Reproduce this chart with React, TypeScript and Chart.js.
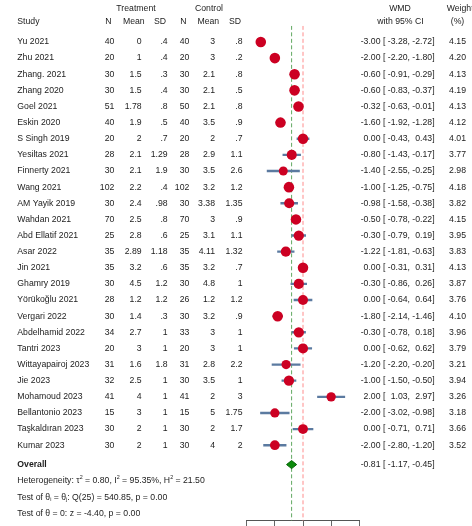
import React, { useEffect, useRef } from "react";
import { Chart, registerables } from "chart.js";

Chart.register(...registerables);

// ---- Study data ----
const studies = [
  "Yu 2021", "Zhu 2021", "Zhang. 2021", "Zhang 2020", "Goel 2021", "Eskin 2020",
  "S Singh 2019", "Yesiltas 2021", "Finnerty 2021", "Wang 2021", "AM Yayik 2019",
  "Wahdan 2021", "Abd Ellatif 2021", "Asar 2022", "Jin 2021", "Ghamry 2019",
  "Yörükoğlu 2021", "Vergari 2022", "Abdelhamid 2022", "Tantri 2023",
  "Wittayapairoj 2023", "Jie 2023", "Mohamoud 2023", "Bellantonio 2023",
  "Taşkaldıran 2023", "Kumar 2023",
];
const trtN = [40, 20, 30, 30, 51, 40, 20, 28, 30, 102, 30, 70, 25, 35, 35, 30, 28, 30, 34, 20, 31, 32, 41, 15, 30, 30];
const trtMean = [0, 1, 1.5, 1.5, 1.78, 1.9, 2, 2.1, 2.1, 2.2, 2.4, 2.5, 2.8, 2.89, 3.2, 4.5, 1.2, 1.4, 2.7, 3, 1.6, 2.5, 4, 3, 2, 2];
const trtSD = [0.4, 0.4, 0.3, 0.4, 0.8, 0.5, 0.7, 1.29, 1.9, 0.4, 0.98, 0.8, 0.6, 1.18, 0.6, 1.2, 1.2, 0.3, 1, 1, 1.8, 1, 1, 1, 1, 1];
const ctlN = [40, 20, 30, 30, 50, 40, 20, 28, 30, 102, 30, 70, 25, 35, 35, 30, 26, 30, 33, 20, 31, 30, 41, 15, 30, 30];
const ctlMean = [3, 3, 2.1, 2.1, 2.1, 3.5, 2, 2.9, 3.5, 3.2, 3.38, 3, 3.1, 4.11, 3.2, 4.8, 1.2, 3.2, 3, 3, 2.8, 3.5, 2, 5, 2, 4];
const ctlSD = [0.8, 0.2, 0.8, 0.5, 0.8, 0.9, 0.7, 1.1, 2.6, 1.2, 1.35, 0.9, 1.1, 1.32, 0.7, 1, 1.2, 0.9, 1, 1, 2.2, 1, 3, 1.75, 1.7, 2];
const wmd = [-3.0, -2.0, -0.6, -0.6, -0.32, -1.6, 0.0, -0.8, -1.4, -1.0, -0.98, -0.5, -0.3, -1.22, 0.0, -0.3, 0.0, -1.8, -0.3, 0.0, -1.2, -1.0, 2.0, -2.0, 0.0, -2.0];
const ciLow = [-3.28, -2.2, -0.91, -0.83, -0.63, -1.92, -0.43, -1.43, -2.55, -1.25, -1.58, -0.78, -0.79, -1.81, -0.31, -0.86, -0.64, -2.14, -0.78, -0.62, -2.2, -1.5, 1.03, -3.02, -0.71, -2.8];
const ciHigh = [-2.72, -1.8, -0.29, -0.37, -0.01, -1.28, 0.43, -0.17, -0.25, -0.75, -0.38, -0.22, 0.19, -0.63, 0.31, 0.26, 0.64, -1.46, 0.18, 0.62, -0.2, -0.5, 2.97, -0.98, 0.71, -1.2];
const weights = [4.15, 4.2, 4.13, 4.19, 4.13, 4.12, 4.01, 3.77, 2.98, 4.18, 3.82, 4.15, 3.95, 3.83, 4.13, 3.87, 3.76, 4.1, 3.96, 3.79, 3.21, 3.94, 3.26, 3.18, 3.66, 3.52];

// Pooled estimate
const overallEst = -0.81;
const overallLow = -1.17;
const overallHigh = -0.45;

const xTicks = [-4, -2, 0, 2, 4];

// ---- Layout of the rows (row units on the y scale) ----
const Y_MIN = -1;
const Y_MAX = 29.68;
const OVERALL_ROW = 26.2;
const STAT_ROWS = [27.21, 28.22, 29.21];

const FAMILY = '"Liberation Sans", Arial, Helvetica, sans-serif';
const FS = 8.7;
const TEXT = "#1c1c1c";

type Seg = { t: string; s?: "sup" | "sub" };

const statLines: Seg[][] = [
  [
    { t: "Heterogeneity: τ" }, { t: "2", s: "sup" }, { t: " = 0.80, I" }, { t: "2", s: "sup" },
    { t: " = 95.35%, H" }, { t: "2", s: "sup" }, { t: " = 21.50" },
  ],
  [
    { t: "Test of θ" }, { t: "i", s: "sub" }, { t: " = θ" }, { t: "j", s: "sub" },
    { t: ": Q(25) = 540.85, p = 0.00" },
  ],
  [{ t: "Test of θ = 0: z = -4.40, p = 0.00" }],
];

const fmtNum = (v: number) => (v > 0 && v < 1 ? String(v).slice(1) : String(v));

function drawRich(ctx: CanvasRenderingContext2D, segs: Seg[], x: number, y: number) {
  let cx = x;
  for (const seg of segs) {
    const fs = seg.s ? FS * 0.62 : FS;
    ctx.font = `${fs}px ${FAMILY}`;
    const dy = seg.s === "sup" ? -FS * 0.42 : seg.s === "sub" ? FS * 0.3 : 0;
    ctx.fillText(seg.t, cx, y + dy);
    cx += ctx.measureText(seg.t).width;
  }
}

// column positions (right edges for numeric columns)
const COL = {
  study: 17.3,
  trtN: 114.3,
  trtMean: 141.7,
  trtSD: 167.7,
  ctlN: 189.3,
  ctlMean: 215,
  ctlSD: 242.5,
  est: 380.5,
  weight: 466,
};

function drawCI(ctx: CanvasRenderingContext2D, est: number, lo: number, hi: number, y: number) {
  ctx.font = `${FS}px ${FAMILY}`;
  const E = COL.est;
  const L = E + ctx.measureText(" [ -3.28,").width;
  const U = L + ctx.measureText(" -2.72]").width;
  ctx.textAlign = "right";
  ctx.fillText(est.toFixed(2), E, y);
  ctx.textAlign = "left";
  ctx.fillText(" [", E, y);
  ctx.textAlign = "right";
  ctx.fillText(lo.toFixed(2) + ",", L, y);
  ctx.fillText(hi.toFixed(2) + "]", U, y);
}

const tablePlugin = {
  id: "forestTable",
  afterDraw(chart: Chart) {
    const ctx = chart.ctx;
    const ys = chart.scales.y;
    ctx.save();
    ctx.fillStyle = TEXT;
    ctx.textBaseline = "middle";
    ctx.font = `${FS}px ${FAMILY}`;

    // headers
    ctx.textAlign = "center";
    ctx.fillText("Treatment", 136, 8.5);
    ctx.fillText("Control", 209, 8.5);
    ctx.fillText("WMD", 400, 8.5);
    ctx.fillText("N", 108.5, 21.7);
    ctx.fillText("Mean", 133.8, 21.7);
    ctx.fillText("SD", 160, 21.7);
    ctx.fillText("N", 183.3, 21.7);
    ctx.fillText("Mean", 208.3, 21.7);
    ctx.fillText("SD", 235, 21.7);
    ctx.fillText("with 95% CI", 400.5, 21.7);
    ctx.fillText("(%)", 457.5, 21.7);
    ctx.textAlign = "left";
    ctx.fillText("Study", COL.study, 21.7);
    ctx.fillText("Weight", 446.7, 8.5);

    // study rows
    studies.forEach((name, i) => {
      const y = ys.getPixelForValue(i);
      ctx.textAlign = "left";
      ctx.fillText(name, COL.study, y);
      ctx.textAlign = "right";
      ctx.fillText(String(trtN[i]), COL.trtN, y);
      ctx.fillText(fmtNum(trtMean[i]), COL.trtMean, y);
      ctx.fillText(fmtNum(trtSD[i]), COL.trtSD, y);
      ctx.fillText(String(ctlN[i]), COL.ctlN, y);
      ctx.fillText(fmtNum(ctlMean[i]), COL.ctlMean, y);
      ctx.fillText(fmtNum(ctlSD[i]), COL.ctlSD, y);
      drawCI(ctx, wmd[i], ciLow[i], ciHigh[i], y);
      ctx.textAlign = "right";
      ctx.fillText(weights[i].toFixed(2), COL.weight, y);
    });

    // overall row
    const yo = ys.getPixelForValue(OVERALL_ROW);
    ctx.textAlign = "left";
    ctx.font = `bold ${FS}px ${FAMILY}`;
    ctx.fillText("Overall", COL.study, yo);
    drawCI(ctx, overallEst, overallLow, overallHigh, yo);

    // heterogeneity and tests
    ctx.textAlign = "left";
    statLines.forEach((segs, k) => {
      drawRich(ctx, segs, COL.study, ys.getPixelForValue(STAT_ROWS[k]));
    });
    ctx.restore();
  },
};

export default function App() {
  const ref = useRef<HTMLCanvasElement | null>(null);

  useEffect(() => {
    if (!ref.current) return;
    const rowIdx = studies.map((_, i) => i);
    const dh = 0.25; // half height of the pooled diamond, in rows

    const chart = new Chart(ref.current, {
      type: "scatter",
      data: {
        datasets: [
          {
            type: "line",
            label: "no effect",
            data: [{ x: 0, y: Y_MIN }, { x: 0, y: Y_MAX }],
            borderColor: "#ff8c8c",
            borderWidth: 1,
            borderDash: [4, 2.5],
            pointRadius: 0,
            order: 10,
          },
          {
            type: "line",
            label: "pooled",
            data: [{ x: overallEst, y: Y_MIN }, { x: overallEst, y: Y_MAX }],
            borderColor: "#62a862",
            borderWidth: 1,
            borderDash: [4, 2.5],
            pointRadius: 0,
            order: 9,
          },
          {
            type: "bar",
            label: "95% CI",
            indexAxis: "y",
            data: rowIdx.map((i) => ({ y: i, x: [ciLow[i], ciHigh[i]] })),
            backgroundColor: "#5b7aa0",
            borderWidth: 0,
            barThickness: 1.7,
            order: 5,
          } as any,
          {
            type: "scatter",
            label: "WMD",
            data: rowIdx.map((i) => ({ x: wmd[i], y: i })),
            backgroundColor: "#cc0022",
            borderColor: "#cc0022",
            borderWidth: 0,
            pointRadius: weights.map((w) => 5.3 * Math.sqrt(w / 4.2)),
            order: 1,
          },
          {
            type: "line",
            label: "Overall",
            data: [
              { x: overallLow, y: OVERALL_ROW },
              { x: overallEst, y: OVERALL_ROW - dh },
              { x: overallHigh, y: OVERALL_ROW },
              { x: overallEst, y: OVERALL_ROW + dh },
              { x: overallLow, y: OVERALL_ROW },
            ],
            backgroundColor: "#0b8a0b",
            borderColor: "#056305",
            borderWidth: 1,
            pointRadius: 0,
            tension: 0,
            fill: "shape",
            order: 0,
          } as any,
        ],
      },
      options: {
        animation: false,
        responsive: false,
        devicePixelRatio: 1,
        layout: { padding: { top: 25.84, left: 246.7, right: 112.7, bottom: 0 } },
        plugins: { legend: { display: false }, tooltip: { enabled: false } },
        scales: {
          x: {
            type: "linear",
            min: -4,
            max: 4,
            offset: false,
            afterBuildTicks: (axis: any) => {
              axis.ticks = xTicks.map((v) => ({ value: v }));
            },
            afterFit: (axis: any) => {
              axis.height = 4.3;
            },
            grid: { drawOnChartArea: false, tickLength: 6, color: "#666", offset: false },
            border: { color: "#555", width: 1 },
            ticks: { color: TEXT, font: { size: FS, family: FAMILY } },
          },
          y: {
            type: "linear",
            display: false,
            offset: false,
            grid: { offset: false },
            min: Y_MIN,
            max: Y_MAX,
            reverse: true,
          },
        },
      },
      plugins: [tablePlugin],
    });
    return () => chart.destroy();
  }, []);

  return (
    <div style={{ position: "fixed", left: 0, top: 0, width: 472, height: 526, background: "#fff" }}>
      <canvas ref={ref} width={472} height={526} style={{ display: "block" }} />
    </div>
  );
}
